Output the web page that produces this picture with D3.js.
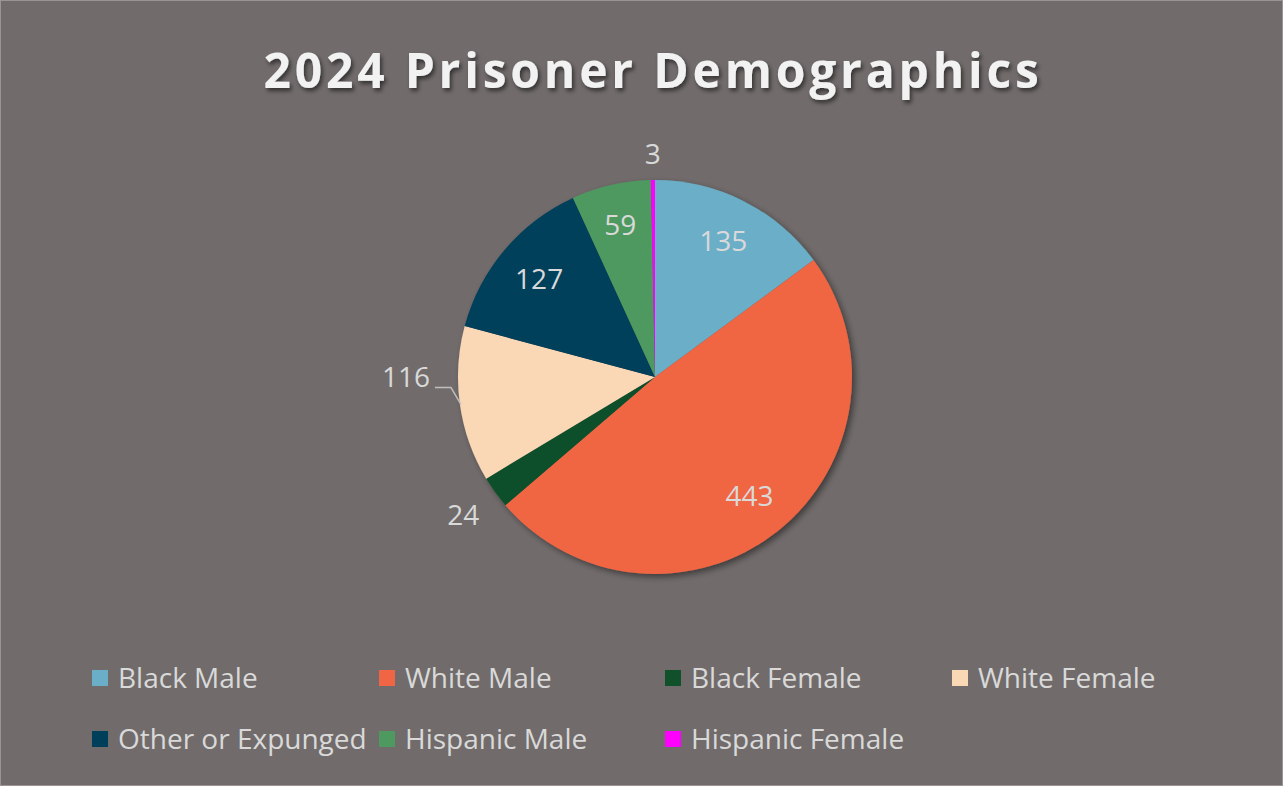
<!DOCTYPE html>
<html>
<head>
<meta charset="utf-8">
<script src="https://cdn.jsdelivr.net/npm/d3@7"></script>
<style>
  html, body { margin: 0; padding: 0; background: #716c6b; }
  svg { display: block; }
</style>
</head>
<body>
<div id="chart"></div>
<script>
// données du graphique
const categories = ['Black Male', 'White Male', 'Black Female', 'White Female', 'Other or Expunged', 'Hispanic Male', 'Hispanic Female'];
const values = [135, 443, 24, 116, 127, 59, 3];
const colors = ['#6aaec8', '#f06543', '#10502a', '#fad8b6', '#003f5a', '#4d9960', '#ff00ff'];
// placement des étiquettes (dans ou hors de la part) et rayon relatif
const labelPlacement = ['in', 'in', 'out', 'leader', 'in', 'in', 'out'];
const labelRadius = [0.77, 0.77, 1.2, 1.0, 0.77, 0.79, 1.13];

const width = 1283, height = 786;
const cx = 655, cy = 377, radius = 197;
const font = '"Open Sans", "DejaVu Sans", sans-serif';

const svg = d3.select('#chart').append('svg')
  .attr('width', width)
  .attr('height', height);

const defs = svg.append('defs');
const shadow = defs.append('filter').attr('id', 'pieShadow')
  .attr('x', '-20%').attr('y', '-20%').attr('width', '140%').attr('height', '140%');
shadow.append('feDropShadow')
  .attr('dx', 3).attr('dy', 3).attr('stdDeviation', 3)
  .attr('flood-color', '#000').attr('flood-opacity', 0.45);

const titleShadow = defs.append('filter').attr('id', 'titleShadow')
  .attr('x', '-10%').attr('y', '-30%').attr('width', '120%').attr('height', '160%');
titleShadow.append('feDropShadow')
  .attr('dx', 2).attr('dy', 3).attr('stdDeviation', 2)
  .attr('flood-color', '#000').attr('flood-opacity', 0.55);

// fond
svg.append('rect')
  .attr('x', 0.5).attr('y', 0.5)
  .attr('width', width - 1).attr('height', height - 1)
  .attr('fill', '#716c6b')
  .attr('stroke', '#9a9594');

// titre
svg.append('text')
  .attr('x', 653).attr('y', 88)
  .attr('text-anchor', 'middle')
  .attr('font-family', font)
  .attr('font-weight', 700)
  .attr('font-size', 48)
  .attr('letter-spacing', 3.8)
  .attr('fill', '#f2f2f2')
  .attr('filter', 'url(#titleShadow)')
  .text('2024 Prisoner Demographics');

// camembert
const pie = d3.pie().sort(null).value(d => d);
const arcs = pie(values);
const arc = d3.arc().innerRadius(0).outerRadius(radius);

const g = svg.append('g').attr('transform', `translate(${cx},${cy})`);

g.append('g').attr('filter', 'url(#pieShadow)')
  .selectAll('path')
  .data(arcs)
  .enter()
  .append('path')
  .attr('d', arc)
  .attr('fill', (d, i) => colors[i]);

// étiquettes
arcs.forEach((d, i) => {
  const mode = labelPlacement[i];
  const r = radius * labelRadius[i];
  let pos, anchor = 'middle';
  if (mode === 'leader') {
    // ligne de rappel
    const a = (d.startAngle + d.endAngle) / 2;
    const edge = [Math.sin(a) * radius * 0.995, -Math.cos(a) * radius * 0.995];
    const elbow = [edge[0] - 10, edge[1] - 17];
    const end = [elbow[0] - 16, elbow[1]];
    g.append('polyline')
      .attr('points', [edge, elbow, end].map(p => p.join(',')).join(' '))
      .attr('fill', 'none')
      .attr('stroke', '#bfbfbf')
      .attr('stroke-width', 1.5);
    pos = [end[0] - 5, end[1] - 10];
    anchor = 'end';
  } else {
    pos = d3.arc().innerRadius(r).outerRadius(r).centroid(d);
  }
  g.append('text')
    .attr('x', pos[0]).attr('y', pos[1])
    .attr('dy', '0.35em')
    .attr('text-anchor', anchor)
    .attr('font-family', font)
    .attr('font-size', 28)
    .attr('fill', '#d9d9d9')
    .text(values[i]);
});

// légende
const legendCols = [92, 379, 665, 952];
const legendRows = [678, 739];
const legend = svg.append('g');
categories.forEach((c, i) => {
  const x = legendCols[i % 4], y = legendRows[Math.floor(i / 4)];
  const item = legend.append('g').attr('transform', `translate(${x},${y})`);
  item.append('rect')
    .attr('x', 0).attr('y', -8)
    .attr('width', 16).attr('height', 16)
    .attr('fill', colors[i]);
  item.append('text')
    .attr('x', 26).attr('y', 0)
    .attr('dy', '0.36em')
    .attr('font-family', font)
    .attr('font-size', 28)
    .attr('fill', '#d9d9d9')
    .text(c);
});
</script>
</body>
</html>
